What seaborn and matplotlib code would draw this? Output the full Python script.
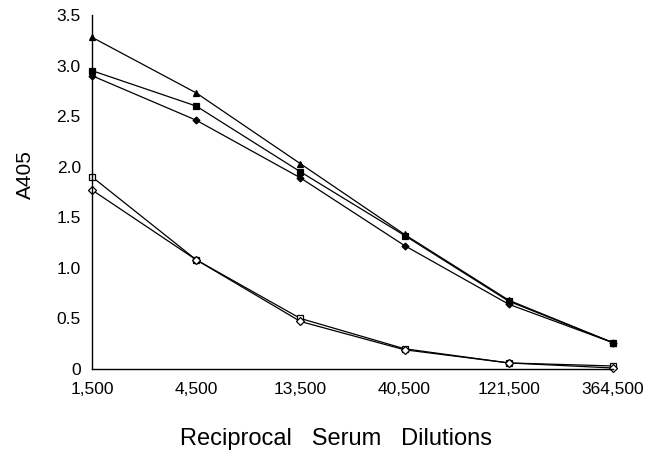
import numpy as np
import pandas as pd
import matplotlib
matplotlib.use("Agg")
import matplotlib.pyplot as plt
import seaborn as sns

sns.set_style("white")
plt.rcParams['font.family'] = ['Liberation Sans', 'DejaVu Sans']
plt.rcParams['text.color'] = 'black'
plt.rcParams['axes.labelcolor'] = 'black'

dilutions = [1500, 4500, 13500, 40500, 121500, 364500]
tick_labels = ["1,500", "4,500", "13,500", "40,500", "121,500", "364,500"]

triangle_filled = [3.28, 2.73, 2.03, 1.33, 0.68, 0.26]
square_filled = [2.95, 2.60, 1.95, 1.32, 0.67, 0.26]
diamond_filled = [2.90, 2.46, 1.89, 1.22, 0.64, 0.26]
square_open = [1.90, 1.08, 0.50, 0.20, 0.06, 0.03]
diamond_open = [1.77, 1.08, 0.47, 0.19, 0.06, 0.01]

fig = plt.figure(figsize=(6.45, 4.51), dpi=100)
ax = fig.add_axes([0.1426, 0.1818, 0.8078, 0.7849])

series = [
    (triangle_filled, "^", "black", 4.5),
    (square_filled, "s", "black", 4),
    (diamond_filled, "D", "black", 3.5),
    (square_open, "s", "white", 4.5),
    (diamond_open, "D", "white", 4),
]
for vals, mk, face, ms in series:
    sns.lineplot(x=dilutions, y=vals, ax=ax, color="black", linewidth=0.9,
                 marker=mk, markersize=ms, markerfacecolor=face,
                 markeredgecolor="black", markeredgewidth=0.9, clip_on=False)

ax.set_xscale("log")
ax.set_xlim(1500, 364500)
ax.set_ylim(0, 3.5)
ax.set_xticks(dilutions)
ax.set_xticklabels(tick_labels)
ax.minorticks_off()
ax.set_yticks([0, 0.5, 1.0, 1.5, 2.0, 2.5, 3.0, 3.5])
ax.set_yticklabels(["0", "0.5", "1.0", "1.5", "2.0", "2.5", "3.0", "3.5"])

for s in ["top", "right"]:
    ax.spines[s].set_visible(False)
for s in ["left", "bottom"]:
    ax.spines[s].set_color("black")
    ax.spines[s].set_linewidth(1.0)

ax.tick_params(axis="both", direction="inout", length=6, width=0.9,
               colors="black", labelsize=12.5)
ax.tick_params(axis="x", pad=6)
ax.tick_params(axis="y", pad=5)

ax.set_ylabel("A405", fontsize=15, va="center", color="black")
ax.yaxis.set_label_coords(-0.128, 0.55)
ax.set_xlabel("Reciprocal   Serum   Dilutions", fontsize=17, va="center", color="black")
ax.xaxis.set_label_coords(0.468, -0.198)

fig.savefig("out.png", dpi=100)
